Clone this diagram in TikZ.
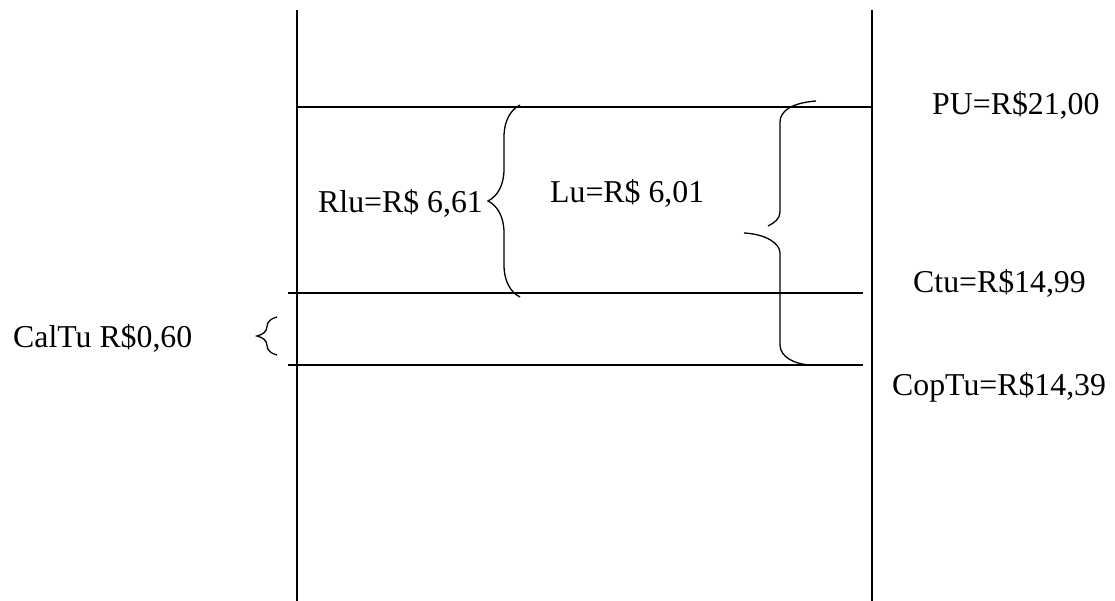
\documentclass[tikz,border=0pt]{standalone}
\usepackage{fontspec}
\setmainfont{Liberation Serif}
\usetikzlibrary{decorations.pathreplacing}

\begin{document}
\begin{tikzpicture}[x=1pt,y=-1pt,
    rule/.style={line width=1.6pt},
    bracket/.style={line width=1.3pt},
    lbl/.style={anchor=base west,inner sep=0pt,font=\fontsize{31.8}{38}\selectfont}]
  \useasboundingbox (0,0) rectangle (1115,601);
  % the two uprights and the three price levels
  \draw[rule] (297,10) -- (297,601);
  \draw[rule] (872,10) -- (872,601);
  \draw[rule] (297,107) -- (872,107);
  \draw[rule] (288,293) -- (863,293);
  \draw[rule] (288,365) -- (863,365);
  % braces
  \draw[bracket,decorate,decoration={brace,amplitude=32pt}] (520,297) -- (520,105);
  \draw[bracket,decorate,decoration={brace,amplitude=20pt}] (277,355) -- (277,317);
  \draw[bracket] (816,101) .. controls (790,103) and (780,112) .. (780,122)
     -- (780,212) .. controls (780,219) and (774,223) .. (768,226);
  \draw[bracket] (744,233) .. controls (765,234) and (780,243) .. (780,253)
     -- (780,345) .. controls (780,357) and (795,365) .. (813,365);
  % values
  \node[lbl] (pu) at (932,115) {PU=R\$21,00};
  \node[lbl] (rlu) at (318,213) {Rlu=R\$ 6,61};
  \node[lbl] (lu) at (550,203) {Lu=R\$ 6,01};
  \node[lbl] (ctu) at (913,293) {Ctu=R\$14,99};
  \node[lbl] (caltu) at (13,347) {CalTu R\$0,60};
  \node[lbl] (coptu) at (892,395) {CopTu=R\$14,39};
\end{tikzpicture}
\end{document}
